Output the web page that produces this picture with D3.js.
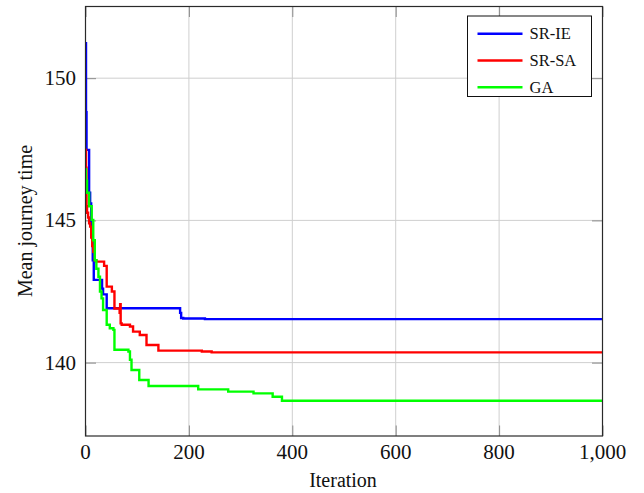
<!DOCTYPE html>
<html>
<head>
<meta charset="utf-8">
<script src="https://cdn.jsdelivr.net/npm/d3@7"></script>
<style>
  body { margin: 0; background: #fff; }
  text { font-family: 'Liberation Serif', 'Times New Roman', serif; }
</style>
</head>
<body>
<div id="chart"></div>
<script>
// series (iteration, mean journey time), drawn as steps
const srieIter = [0, 1, 2, 7, 9, 11, 14, 16, 32, 34, 41, 183, 185, 189, 231, 1000];
const srieVal  = [151.23, 148.8, 147.48, 145.97, 145.6, 144.5, 143.6, 142.91, 142.6, 142.4, 141.91, 141.75, 141.57, 141.55, 141.53, 141.53];

const srsaIter = [0, 1, 2, 3, 5, 7, 9, 11, 13, 15, 18, 21, 36, 41, 51, 56, 66, 67, 68, 70, 86, 92, 105, 118, 141, 225, 244, 1000];
const srsaVal  = [147.48, 146.85, 145.5, 145.27, 145.1, 144.9, 144.78, 144.4, 144.1, 143.9, 143.6, 143.55, 143.4, 142.67, 142.5, 141.9, 141.75, 142.05, 141.38, 141.33, 141.27, 141.09, 140.97, 140.62, 140.42, 140.39, 140.36, 140.36];

const gaIter = [0, 1, 3, 7, 12, 15, 18, 21, 25, 28, 31, 34, 41, 47, 54, 56, 83, 86, 89, 104, 122, 218, 276, 325, 362, 380, 1000];
const gaVal  = [146.8, 146.4, 145.97, 145.5, 145.02, 144.3, 143.6, 143.3, 143.02, 142.5, 142.26, 141.85, 141.33, 141.21, 141.15, 140.45, 140.39, 140.1, 139.74, 139.39, 139.18, 139.06, 138.98, 138.92, 138.8, 138.66, 138.66];

const seriesNames = ["SR-IE", "SR-SA", "GA"];
const seriesColors = ["#0000ff", "#ff0000", "#00ff00"];

const xTicks = [0, 200, 400, 600, 800, 1000];
const yTicks = [140, 145, 150];

const FONT = "'Liberation Serif', 'Times New Roman', serif";

// plot box in page pixels
var W = 644, H = 493;
var box = { left: 85.5, right: 602.5, top: 6.5, bottom: 436 };

var x = d3.scaleLinear().domain([0, 1000]).range([box.left, box.right]);
var y = d3.scaleLinear().domain([137.42, 152.52]).range([box.bottom, box.top]);

const svg = d3.select("#chart").append("svg")
    .attr("width", W)
    .attr("height", H)
    .style("display", "block");

// grid
svg.append("g").selectAll("line")
    .data(xTicks).enter().append("line")
    .attr("x1", d => x(d)).attr("x2", d => x(d))
    .attr("y1", box.top).attr("y2", box.bottom)
    .attr("stroke", "#cfcfcf").attr("stroke-width", 1);
svg.append("g").selectAll("line")
    .data(yTicks).enter().append("line")
    .attr("x1", box.left).attr("x2", box.right)
    .attr("y1", d => y(d)).attr("y2", d => y(d))
    .attr("stroke", "#cfcfcf").attr("stroke-width", 1);

// inner tick marks on all four sides
const TICK = 10.5;
function innerTicks(axis, pos) {
    return axis.tickValues(pos).tickSize(-TICK).tickFormat("");
}
svg.append("g").attr("transform", "translate(0," + box.bottom + ")").call(innerTicks(d3.axisBottom(x), xTicks));
svg.append("g").attr("transform", "translate(0," + box.top + ")").call(innerTicks(d3.axisTop(x), xTicks));
svg.append("g").attr("transform", "translate(" + box.left + ",0)").call(innerTicks(d3.axisLeft(y), yTicks));
svg.append("g").attr("transform", "translate(" + box.right + ",0)").call(innerTicks(d3.axisRight(y), yTicks));
svg.selectAll(".domain").remove();
svg.selectAll(".tick line").attr("stroke", "#8a8a8a");

// lines
var line = d3.line()
    .x(d => x(d[0]))
    .y(d => y(d[1]))
    .curve(d3.curveStepAfter);

const series = [
    d3.zip(srieIter, srieVal),
    d3.zip(srsaIter, srsaVal),
    d3.zip(gaIter, gaVal)
];

svg.append("defs").append("clipPath").attr("id", "clip")
    .append("rect")
    .attr("x", box.left).attr("y", box.top)
    .attr("width", box.right - box.left).attr("height", box.bottom - box.top);

svg.append("g").attr("clip-path", "url(#clip)")
    .selectAll("path")
    .data(series).enter().append("path")
    .attr("fill", "none")
    .attr("stroke", (d, i) => seriesColors[i])
    .attr("stroke-width", 2.4)
    .attr("d", line);

// frame
svg.append("rect")
    .attr("x", box.left).attr("y", box.top)
    .attr("width", box.right - box.left).attr("height", box.bottom - box.top)
    .attr("fill", "none").attr("stroke", "#2a2a2a").attr("stroke-width", 1.2);

// tick labels
svg.append("g").selectAll("text")
    .data(xTicks).enter().append("text")
    .attr("x", d => x(d)).attr("y", 452)
    .attr("text-anchor", "middle").attr("dominant-baseline", "central")
    .attr("font-family", FONT).attr("font-size", "21px").attr("fill", "#111")
    .text(d3.format(","));
svg.append("g").selectAll("text")
    .data(yTicks).enter().append("text")
    .attr("x", 76).attr("y", d => y(d))
    .attr("text-anchor", "end").attr("dominant-baseline", "central")
    .attr("font-family", FONT).attr("font-size", "21px").attr("fill", "#111")
    .text(d => d);

// axis titles
svg.append("text")
    .attr("x", 343).attr("y", 480)
    .attr("text-anchor", "middle").attr("dominant-baseline", "central")
    .attr("font-family", FONT).attr("font-size", "20px").attr("fill", "#111")
    .text("Iteration");
svg.append("text")
    .attr("transform", "translate(25,221) rotate(-90)")
    .attr("text-anchor", "middle").attr("dominant-baseline", "central")
    .attr("font-family", FONT).attr("font-size", "20px").attr("fill", "#111")
    .text("Mean journey time");

// legend
const legend = svg.append("g");
legend.append("rect")
    .attr("x", 467.5).attr("y", 16)
    .attr("width", 124).attr("height", 80.5)
    .attr("fill", "#fff").attr("stroke", "#111").attr("stroke-width", 1);
const rows = legend.selectAll("g.row")
    .data(seriesNames).enter().append("g")
    .attr("class", "row")
    .attr("transform", (d, i) => "translate(0," + (33.7 + i * 26.8) + ")");
rows.append("line")
    .attr("x1", 477.5).attr("x2", 522.5)
    .attr("stroke", (d, i) => seriesColors[i])
    .attr("stroke-width", 2.4);
rows.append("text")
    .attr("x", 529.5).attr("y", 0)
    .attr("dominant-baseline", "central")
    .attr("font-family", FONT).attr("font-size", "16.5px").attr("fill", "#111")
    .text(d => d);
</script>
</body>
</html>
